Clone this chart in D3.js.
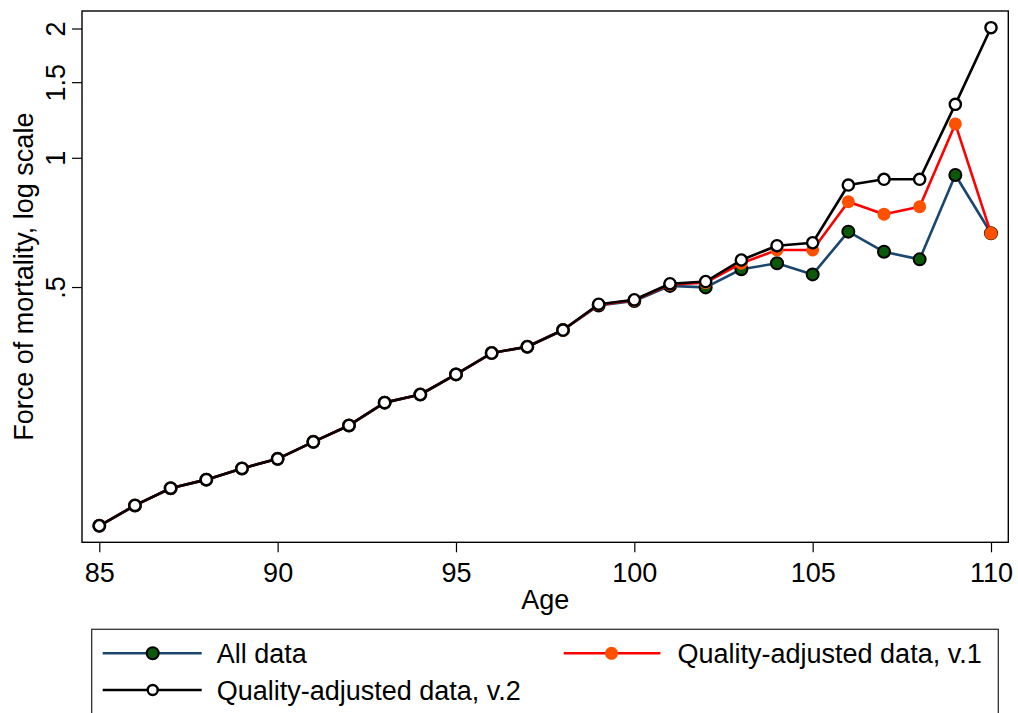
<!DOCTYPE html>
<html>
<head>
<meta charset="utf-8">
<script src="https://cdn.jsdelivr.net/npm/d3@7"></script>
<style>
  html, body { margin: 0; padding: 0; background: #fff; }
  svg { display: block; font-family: "Liberation Sans", Arial, sans-serif; }
</style>
</head>
<body>
<svg id="chart" width="1018" height="713"></svg>
<script>
const ages = [85,86,87,88,89,90,91,92,93,94,95,96,97,98,99,100,101,102,103,104,105,106,107,108,109,110];
const allData = [0.139,0.155,0.170,0.178,0.189,0.199,0.218,0.238,0.269,0.281,0.313,0.351,0.363,0.397,0.453,0.464,0.503,0.499,0.550,0.568,0.535,0.673,0.604,0.580,0.912,0.667];
const qaV1 =    [0.139,0.155,0.170,0.178,0.189,0.199,0.218,0.238,0.269,0.281,0.313,0.351,0.363,0.397,0.455,0.466,0.507,0.512,0.568,0.610,0.610,0.790,0.739,0.769,1.199,0.667];
const qaV2 =    [0.139,0.155,0.170,0.178,0.189,0.199,0.218,0.238,0.269,0.281,0.313,0.351,0.363,0.397,0.456,0.467,0.509,0.515,0.578,0.624,0.634,0.864,0.891,0.891,1.332,2.009];
const xTicks = [85,90,95,100,105,110];
const yTicks = [0.5,1,1.5,2];
const yTickLabels = [".5","1","1.5","2"];
const seriesNames = ["All data","Quality-adjusted data, v.1","Quality-adjusted data, v.2"];

const svg = d3.select("#chart");
const L = 82, R = 1008.3, T = 11, B = 542.3;
const x = d3.scaleLinear().domain([84.515, 110.485]).range([L, R]);
const y = d3.scaleLog().domain([0.1272, 2.197]).range([B, T]);
const FS = 27;

const styles = [
  {line:"#1a476f", fill:"#0a5a0a", stroke:"#000", sw:2, r:6},
  {line:"#ff0000", fill:"#ff5000", stroke:"none", sw:0, r:6.5},
  {line:"#000000", fill:"#ffffff", stroke:"#000", sw:2.4, r:5.6}
];
const series = [allData, qaV1, qaV2];

// frame
svg.append("rect").attr("x", L).attr("y", T).attr("width", R-L).attr("height", B-T)
  .attr("fill","none").attr("stroke","#000").attr("stroke-width",1.4);

// x axis
const xAxis = svg.append("g").attr("transform", `translate(0,${B})`)
  .call(d3.axisBottom(x).tickValues(xTicks).tickSize(10).tickPadding(11).tickFormat(d3.format("d")));
xAxis.select(".domain").remove();
xAxis.selectAll("line").attr("stroke","#000").attr("stroke-width",1.2);
xAxis.selectAll("text").attr("font-size", FS).attr("fill","#000").attr("font-family","Liberation Sans, Arial, sans-serif");

// y axis
const yAxis = svg.append("g").attr("transform", `translate(${L},0)`)
  .call(d3.axisLeft(y).tickValues(yTicks).tickSize(10).tickFormat((d,i)=>yTickLabels[i]));
yAxis.select(".domain").remove();
yAxis.selectAll("line").attr("stroke","#000").attr("stroke-width",1.2);
yAxis.selectAll("text")
  .attr("font-size", FS).attr("fill","#000").attr("font-family","Liberation Sans, Arial, sans-serif")
  .attr("x", null).attr("dy", null)
  .attr("text-anchor","middle")
  .attr("transform","translate(-17,0) rotate(-90)");

// axis titles
svg.append("text").attr("x", (L+R)/2).attr("y", 608.5).attr("text-anchor","middle")
  .attr("font-size", FS).attr("fill","#000").text("Age");
svg.append("text").attr("transform", `translate(33,${(T+B)/2}) rotate(-90)`).attr("text-anchor","middle")
  .attr("font-size", FS).attr("fill","#000").text("Force of mortality, log scale");

// lines and markers
const lineGen = d3.line().x((d,i)=>x(ages[i])).y(d=>y(d));
series.forEach((s, k) => {
  const st = styles[k];
  svg.append("path").datum(s).attr("d", lineGen).attr("fill","none")
    .attr("stroke", st.line).attr("stroke-width", 2.6).attr("stroke-linejoin","round");
  svg.append("g").selectAll("circle").data(s).join("circle")
    .attr("cx",(d,i)=>x(ages[i])).attr("cy",d=>y(d)).attr("r", st.r)
    .attr("fill", st.fill).attr("stroke", st.stroke).attr("stroke-width", st.sw);
});

// legend
svg.append("rect").attr("x", 91.7).attr("y", 629.3).attr("width", 998.3-91.7).attr("height", 120)
  .attr("fill","#fff").attr("stroke","#333").attr("stroke-width",1.3);
const legItems = [
  {x0:102.7, x1:201.7, mx:152.7, tx:216.7, yy:653.3},
  {x0:563.7, x1:660.4, mx:611.5, tx:677.5, yy:653.3},
  {x0:102.7, x1:201.7, mx:152.7, tx:216.7, yy:690}
];
legItems.forEach((p, k) => {
  const st = styles[k];
  const g = svg.append("g");
  g.append("line").attr("x1",p.x0).attr("x2",p.x1).attr("y1",p.yy).attr("y2",p.yy)
    .attr("stroke", st.line).attr("stroke-width", 2.4);
  g.append("circle").attr("cx",p.mx).attr("cy",p.yy).attr("r", k===2 ? 5 : st.r)
    .attr("fill", st.fill).attr("stroke", st.stroke).attr("stroke-width", st.sw);
  g.append("text").attr("x",p.tx).attr("y",p.yy).attr("dy","0.36em")
    .attr("font-size", FS).attr("fill","#000").text(seriesNames[k]);
});
</script>
</body>
</html>
